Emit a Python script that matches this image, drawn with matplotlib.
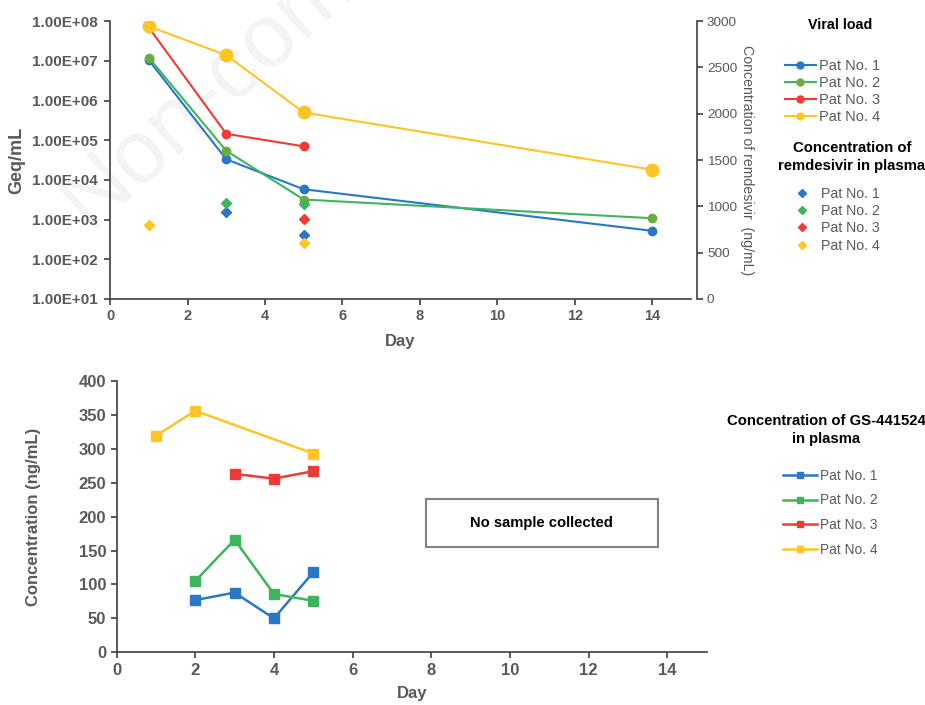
import math
import matplotlib
matplotlib.use("Agg")
import matplotlib.pyplot as plt
from matplotlib.lines import Line2D
from matplotlib.patches import Rectangle
from matplotlib.ticker import FixedLocator, FuncFormatter

plt.rcParams['font.family'] = ['Liberation Sans', 'DejaVu Sans']

# viral load (Geq/mL)
vl_days = {1: [1, 3, 5, 14], 2: [1, 3, 5, 14], 3: [1, 3, 5], 4: [1, 3, 5, 14]}
vl_vals = {1: [1.04e7, 3.3e4, 5.8e3, 5.2e2],
           2: [1.2e7, 5.4e4, 3.2e3, 1.08e3],
           3: [6.9e7, 1.45e5, 7.0e4],
           4: [7.4e7, 1.39e7, 5.0e5, 1.8e4]}

# remdesivir (ng/mL), right axis
rdv_days = {1: [3, 5], 2: [3, 5], 3: [5], 4: [1, 5]}
rdv_vals = {1: [940, 690], 2: [1040, 1020], 3: [862], 4: [795, 606]}

# GS-441524 (ng/mL)
gs_days = {1: [2, 3, 4, 5], 2: [2, 3, 4, 5], 3: [3, 4, 5], 4: [1, 2, 5]}
gs_vals = {1: [77, 88, 50, 118], 2: [105, 166, 86, 76],
           3: [263, 256, 267], 4: [319, 356, 293]}

pats = [1, 2, 3, 4]
labels = ["Pat No. 1", "Pat No. 2", "Pat No. 3", "Pat No. 4"]
line_col = {1: '#2a77c6', 2: '#3db55f', 3: '#ee3b36', 4: '#ffc527'}
vl_mark = {1: '#2a77c6', 2: '#6aad3d', 3: '#ee3b36', 4: '#ffc527'}
vl_msize = {1: 6, 2: 6, 3: 6, 4: 9}
gray = '#595959'
dark = '#404040'

fig = plt.figure(figsize=(9.25, 7.05), dpi=100)

# faint watermark (runs off the top edge, as in the source image)
fig.text(0.11, 0.655, "Non-com", fontsize=64, color='#f4f4f4',
         rotation=42, rotation_mode='anchor', ha='left', va='bottom', zorder=-5)


def style_spines(a, sides):
    for s in sides:
        a.spines[s].set_color(dark)
        a.spines[s].set_linewidth(1.2)


# ---- top panel ----
ax1 = fig.add_axes([0.119, 0.576, 0.628, 0.394])
ax1.patch.set_alpha(0)
for p in pats:
    ax1.plot(vl_days[p], vl_vals[p], '-o', color=line_col[p], lw=1.5,
             mfc=vl_mark[p], mec=vl_mark[p], ms=vl_msize[p], zorder=3)
ax1.set_yscale('log')
ax1.set_ylim(1e1, 1e8)
ax1.set_xlim(0, 15)
ax1.yaxis.set_major_locator(FixedLocator([10.0**k for k in range(1, 9)]))
ax1.yaxis.set_minor_locator(FixedLocator([]))
ax1.yaxis.set_major_formatter(FuncFormatter(lambda v, _: "1.00E+%02d" % round(math.log10(v))))
ax1.set_xticks(range(0, 15, 2))
ax1.set_ylabel("Geq/mL", fontsize=13, color=gray, fontweight='bold', labelpad=5)
ax1.set_xlabel("Day", fontsize=12, color=gray, fontweight='bold', labelpad=8)
ax1.tick_params(axis='y', labelsize=11, pad=5)
ax1.tick_params(axis='x', labelsize=10.5)

ax2 = ax1.twinx()
for p in pats:
    ax2.plot(rdv_days[p], rdv_vals[p], 'D', color=line_col[p], ms=5.5, ls='none', zorder=3)
ax2.set_ylim(0, 3000)
ax2.set_yticks(range(0, 3001, 500))
ax2.set_ylabel("Concentration of remdesivir  (ng/mL)", fontsize=10.2, color=gray,
               rotation=270, labelpad=12)
ax2.spines['right'].set_position(('outward', 4))
ax2.tick_params(labelsize=9.7)

for a in (ax1, ax2):
    a.spines['top'].set_visible(False)
    a.tick_params(colors=dark, labelcolor=gray, width=1.2, length=4)
ax1.spines['right'].set_visible(False)
ax2.spines['left'].set_visible(False)
ax2.spines['bottom'].set_visible(False)
style_spines(ax1, ('left', 'bottom'))
style_spines(ax2, ('right',))
for t in ax1.get_xticklabels() + ax1.get_yticklabels():
    t.set_fontweight('bold')

# legends top
fig.text(840 / 925, 1 - 25 / 705, "Viral load", fontsize=10.3, fontweight='bold',
         ha='center', va='center')
h1 = [Line2D([], [], color=line_col[p], marker='o', mfc=vl_mark[p], mec=vl_mark[p],
             ms=5, lw=1.5) for p in pats]
fig.legend(h1, labels, loc='upper left', bbox_to_anchor=(785 / 925, 1 - 59 / 705),
           frameon=False, fontsize=10.5, labelcolor=gray, handlelength=2.1,
           handletextpad=0.2, labelspacing=0.2, borderpad=0, borderaxespad=0)
fig.text(852 / 925, 1 - 157 / 705, "Concentration of\nremdesivir in plasma", fontsize=10.7,
         fontweight='bold', ha='center', va='center', linespacing=1.4)
h2 = [Line2D([], [], color=line_col[p], marker='D', ls='none', ms=4.5) for p in pats]
fig.legend(h2, labels, loc='upper left', bbox_to_anchor=(795 / 925, 1 - 186.5 / 705),
           frameon=False, fontsize=10.2, labelcolor=gray, handlelength=1.0,
           handletextpad=0.83, labelspacing=0.24, borderpad=0, borderaxespad=0)

# ---- bottom panel ----
ax3 = fig.add_axes([0.126, 0.0747, 0.638, 0.385])
for p in pats:
    ax3.plot(gs_days[p], gs_vals[p], '-s', color=line_col[p], lw=1.8, ms=6.5, zorder=3)
ax3.set_xlim(0, 15)
ax3.set_ylim(0, 400)
ax3.set_xticks(range(0, 15, 2))
ax3.set_yticks(range(0, 401, 50))
ax3.spines['top'].set_visible(False)
ax3.spines['right'].set_visible(False)
style_spines(ax3, ('left', 'bottom'))
ax3.tick_params(colors=dark, labelcolor=gray, labelsize=12, width=1.2, length=4)
for t in ax3.get_xticklabels() + ax3.get_yticklabels():
    t.set_fontweight('bold')
ax3.set_ylabel("Concentration (ng/mL)", fontsize=12, color=gray, fontweight='bold', labelpad=27)
ax3.set_xlabel("Day", fontsize=12, color=gray, fontweight='bold', labelpad=6)

fig.patches.append(Rectangle((426 / 925, 1 - 547 / 705), 232 / 925, 48 / 705,
                             transform=fig.transFigure, fill=False, ec='#808080', lw=1.5))
fig.text(470 / 925, 1 - 523 / 705, "No sample collected", fontsize=10.6, fontweight='bold',
         ha='left', va='center')

fig.text(826 / 925, 1 - 430 / 705, "Concentration of GS-441524\nin plasma", fontsize=10.7,
         fontweight='bold', ha='center', va='center', linespacing=1.35)
h3 = [Line2D([], [], color=line_col[p], marker='s', ms=5, lw=1.8) for p in pats]
fig.legend(h3, labels, loc='upper left', bbox_to_anchor=(783 / 925, 1 - 468.7 / 705),
           frameon=False, fontsize=9.9, labelcolor=gray, handlelength=2.5,
           handletextpad=0.22, labelspacing=0.78, borderpad=0, borderaxespad=0)

fig.savefig("out.png", dpi=100)
